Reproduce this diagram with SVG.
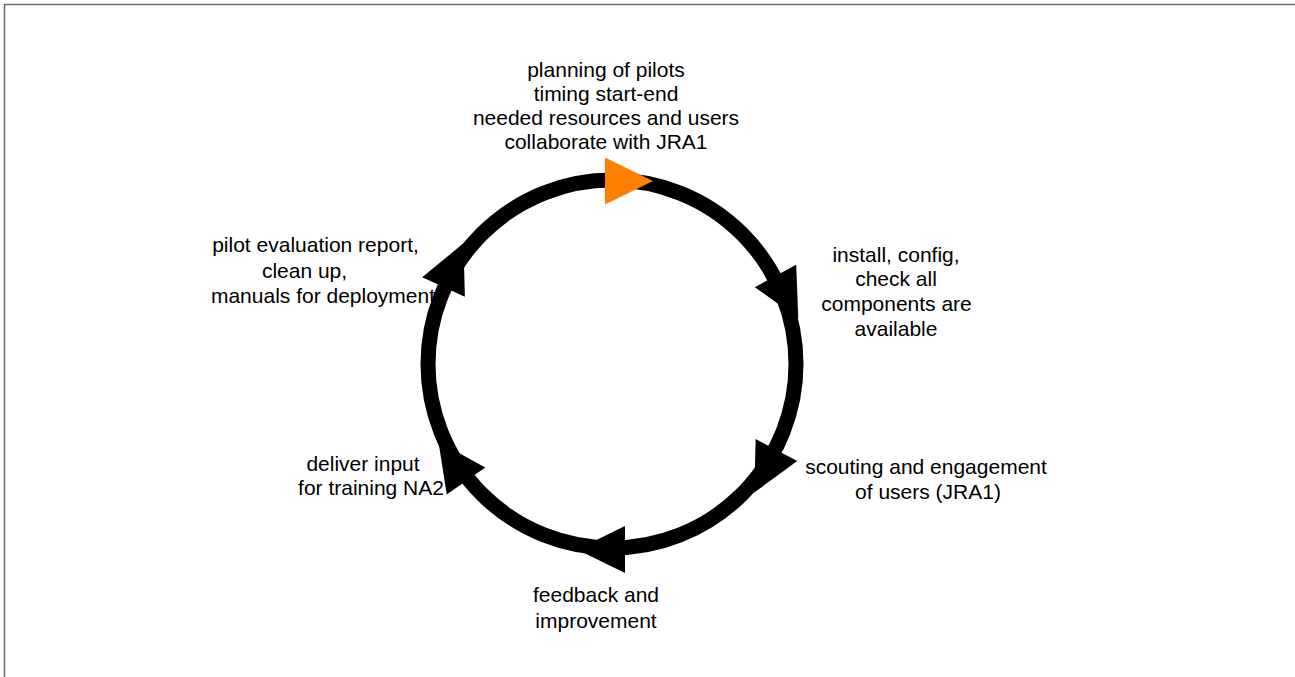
<svg xmlns="http://www.w3.org/2000/svg" width="1295" height="677" viewBox="0 0 1295 677">
  <style>
    .lbl { font-family: "Liberation Sans", Arial, sans-serif; font-size: 21px; fill: #000; text-anchor: middle; }
    .ring { fill: none; stroke: #000; stroke-width: 15; }
    .head { fill: #000; }
    .start { fill: #ff7f00; }
  </style>
  <defs>
    <!-- arrowhead: base centred on the ring, pointing along +x -->
    <polygon id="tri" points="0,-23.5 0,23.5 48,0"/>
  </defs>
  <rect width="1295" height="677" fill="#fff"/>
  <path d="M4.5,677 V4.5 H1295" fill="none" stroke="#707070" stroke-width="1.6"/>

  <g id="connectors">
    <circle class="ring" cx="612" cy="364" r="184"/>
    <use href="#tri" class="head" transform="translate(775.5,276) rotate(61.7)"/>
    <use href="#tri" class="head" transform="translate(776.5,450) rotate(117.6)"/>
    <use href="#tri" class="head" transform="translate(625,549.5) rotate(180)"/>
    <use href="#tri" class="head" transform="translate(466,481) rotate(235)"/>
    <use href="#tri" class="head" transform="translate(443.5,287) rotate(-65.4)"/>
    <use href="#tri" class="start" transform="translate(605,181)"/>
  </g>

  <g id="planning">
    <text class="lbl" x="606" y="77">planning of pilots</text>
    <text class="lbl" x="606" y="101">timing start-end</text>
    <text class="lbl" x="606" y="125">needed resources and users</text>
    <text class="lbl" x="606" y="149">collaborate with JRA1</text>
  </g>
  <g id="install">
    <text class="lbl" x="896" y="262">install, config,</text>
    <text class="lbl" x="896" y="286">check all</text>
    <text class="lbl" x="896.5" y="311">components are</text>
    <text class="lbl" x="896" y="336">available</text>
  </g>
  <g id="scouting">
    <text class="lbl" x="926" y="474">scouting and engagement</text>
    <text class="lbl" x="928" y="499">of users (JRA1)</text>
  </g>
  <g id="feedback">
    <text class="lbl" x="596" y="602">feedback and</text>
    <text class="lbl" x="596" y="628">improvement</text>
  </g>
  <g id="training">
    <text class="lbl" x="363" y="471">deliver input</text>
    <text class="lbl" x="371" y="495">for training NA2</text>
  </g>
  <g id="evaluation">
    <text class="lbl" x="315.5" y="252">pilot evaluation report,</text>
    <text class="lbl" x="304.5" y="278">clean up,</text>
    <text class="lbl" x="323" y="303">manuals for deployment</text>
  </g>
</svg>
